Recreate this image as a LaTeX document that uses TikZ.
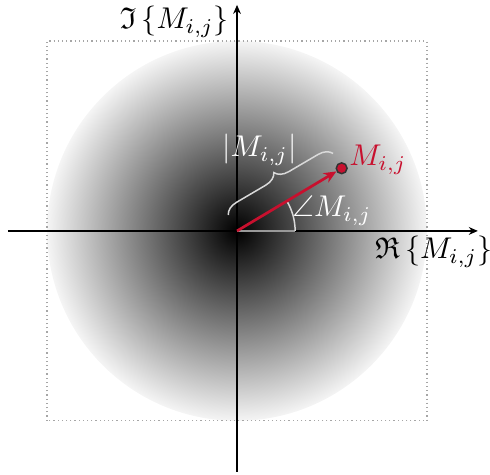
\documentclass[tikz,border=0pt]{standalone}
\usepackage{amssymb}
\usetikzlibrary{arrows.meta,decorations.pathreplacing}
\definecolor{magred}{HTML}{C8102E}
\pgfdeclareradialshading{magshade}{\pgfpoint{0bp}{0bp}}{color(0bp)=(black); color(25bp)=(white!96!black); color(50bp)=(white)}

\begin{document}
\begin{tikzpicture}[x=0.445cm, y=0.445cm,
    axis/.style={-{Stealth[length=3pt, width=2.6pt]}, line width=0.4pt},
    vec/.style={magred, -{Stealth[length=4.2pt, width=3.6pt]}, line width=0.9pt},
    lbl/.style={white, font=\normalsize},
    brc/.style={white!85!black, line width=0.5pt, decorate, decoration={brace, amplitude=4.5pt}}]
  \useasboundingbox (-6.24,-6.42) rectangle (6.66,6.08);
  \shade[shading=magshade] (0,0) circle (5);
  \draw[gray!70, densely dotted, line width=0.4pt] (-5,-5) rectangle (5,5);
  \coordinate (o) at (0,0);
  \coordinate (xl) at (-6.03,0);
  \coordinate (xr) at (6.34,0);
  \coordinate (yb) at (0,-6.34);
  \coordinate (yt) at (0,5.95);
  \draw[axis] (xl) -- (xr);
  \draw[axis] (yb) -- (yt);
  \node[anchor=east, inner sep=1pt] (im) at (-0.12,5.5) {$\mathfrak{I}\left\{M_{i,j}\right\}$};
  \node (re) at (5.18,-0.55) {$\mathfrak{R}\left\{M_{i,j}\right\}$};
  % magnitude and phase
  \draw[white!60!black, line width=0.4pt] (o) -- (1.53,0);
  \draw[white!85!black, line width=0.5pt] (1.53,0) arc (0:31.2:1.53);
  \node[lbl] (ang) at (2.5,0.53) {$\angle M_{i,j}$};
  \node[circle, fill=magred, draw=black!80, line width=0.5pt, inner sep=0pt, minimum size=3.6pt] (m) at (2.755,1.65) {};
  \draw[vec] (o) -- (m);
  \node[magred] (ml) at (3.71,1.87) {$M_{i,j}$};
  \coordinate (b1) at (-0.23,0.42);
  \coordinate (b2) at (2.53,2.04);
  \draw[brc] (b1) -- (b2);
  \node[lbl] (mag) at (0.59,2.13) {$\left|M_{i,j}\right|$};
\end{tikzpicture}
\end{document}
